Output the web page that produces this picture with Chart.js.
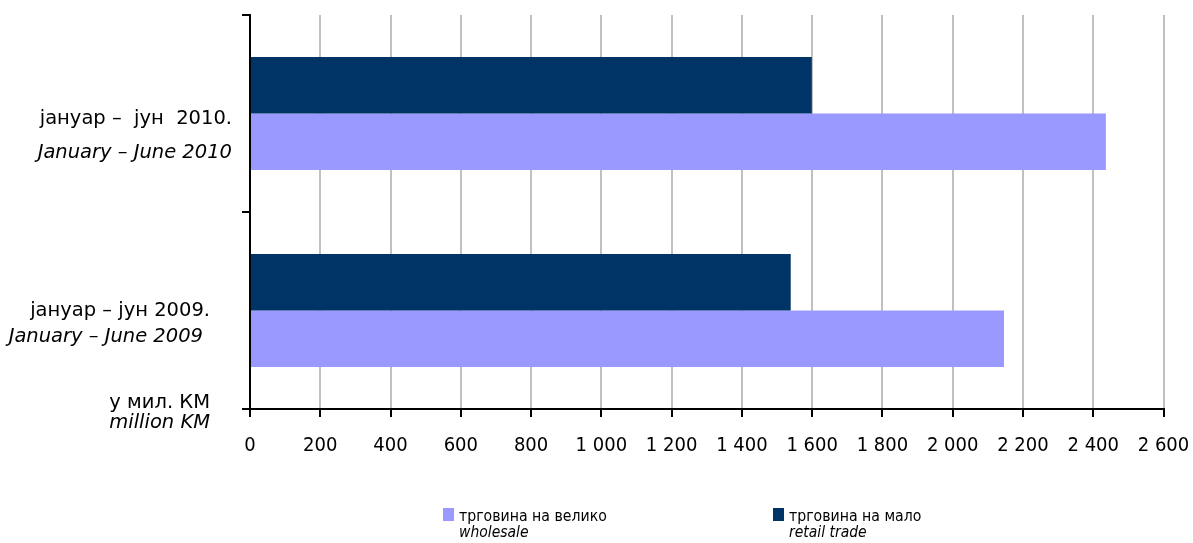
<!DOCTYPE html>
<html>
<head>
<meta charset="utf-8">
<script src="https://cdn.jsdelivr.net/npm/chart.js@4/dist/chart.umd.min.js"></script>
<style>
  html, body { margin: 0; padding: 0; background: #fff; }
  #wrap { width: 1193px; height: 543px; position: relative; }
</style>
</head>
<body>
<div id="wrap"><canvas id="myChart"></canvas></div>
<script>
'use strict'

// PODACI
var categories = ['јануар –  јун  2010.', 'јануар – јун 2009.'];
var categoriesEn = ['January – June 2010', 'January – June 2009'];
var retail = [1599, 1539];      // трговина на мало / retail trade
var wholesale = [2436, 2146];   // трговина на велико / wholesale
var xMin = 0, xMax = 2600, xStep = 200;
var unitLabel = ['у мил. КМ', 'million KM'];
var legendLabels = [
  { sr: 'трговина на велико', en: 'wholesale', color: '#9999FF' },
  { sr: 'трговина на мало', en: 'retail trade', color: '#003366' }
];

var FONT = '"DejaVu Sans", Verdana, sans-serif';
var FONT_NARROW = '"DejaVu Sans Condensed", "DejaVu Sans", sans-serif';

// labels on the left side + unit + legend
var extraText = {
  id: 'extraText',
  afterDraw: function(chart) {
    var ctx = chart.ctx;
    var y = chart.scales.y;
    var offs = [[5, 39], [0, 26]];
    var rightX = [232, 210];
    var rightXEn = [232, 203];
    ctx.save();
    ctx.fillStyle = '#000';
    ctx.textBaseline = 'middle';
    ctx.textAlign = 'right';
    for (var i = 0; i < categories.length; i++) {
      var cy = y.getPixelForValue(i);
      ctx.font = '19.5px ' + FONT;
      ctx.fillText(categories[i], rightX[i], cy + offs[i][0]);
      ctx.font = 'italic 19.5px ' + FONT;
      ctx.fillText(categoriesEn[i], rightXEn[i], cy + offs[i][1]);
    }
    ctx.font = '19.5px ' + FONT;
    ctx.fillText(unitLabel[0], 210, 403);
    ctx.font = 'italic 19.5px ' + FONT;
    ctx.fillText(unitLabel[1], 210, 423);

    // legend
    var lx = [443, 773];
    ctx.textAlign = 'left';
    for (var j = 0; j < legendLabels.length; j++) {
      ctx.fillStyle = legendLabels[j].color;
      ctx.fillRect(lx[j], 508, 11, 13);
      ctx.fillStyle = '#000';
      ctx.font = '15.7px ' + FONT_NARROW;
      ctx.fillText(legendLabels[j].sr, lx[j] + 16, 517);
      ctx.font = 'italic 15.5px ' + FONT_NARROW;
      ctx.fillText(legendLabels[j].en, lx[j] + 16, 533);
    }
    ctx.restore();
  }
};

var ctx = document.getElementById('myChart').getContext('2d');
var chart = new Chart(ctx, {
  type: 'bar',
  data: {
    labels: categories,
    datasets: [{
      label: 'трговина на мало',
      backgroundColor: '#003366',
      data: retail,
      categoryPercentage: 0.573,
      barPercentage: 1
    },
    {
      label: 'трговина на велико',
      backgroundColor: '#9999FF',
      data: wholesale,
      categoryPercentage: 0.573,
      barPercentage: 1
    }]
  },
  options: {
    indexAxis: 'y',
    responsive: true,
    maintainAspectRatio: false,
    animation: false,
    layout: { padding: { top: 15, right: 29.5, left: 0, bottom: 0 } },
    plugins: {
      legend: { display: false },
      tooltip: { enabled: false }
    },
    scales: {
      x: {
        min: xMin,
        max: xMax,
        afterFit: function(s) {
          s.height = 134;
          s.paddingLeft = 0;
          s.paddingRight = 0;
        },
        ticks: {
          stepSize: xStep,
          padding: 17,
          color: '#000',
          font: { family: FONT_NARROW, size: 20 },
          callback: function(v) {
            return String(v).replace(/\B(?=(\d{3})+(?!\d))/g, ' ');
          }
        },
        grid: {
          color: '#c0c0c0',
          lineWidth: 2,
          tickColor: '#000',
          tickLength: 8
        },
        border: { color: '#000', width: 2 }
      },
      y: {
        offset: true,
        afterFit: function(s) { s.width = 250; },
        ticks: { display: false },
        grid: {
          offset: true,
          drawOnChartArea: false,
          tickColor: '#000',
          tickLength: 8,
          lineWidth: 2
        },
        border: { color: '#000', width: 2 }
      }
    }
  },
  plugins: [extraText]
});
</script>
</body>
</html>
